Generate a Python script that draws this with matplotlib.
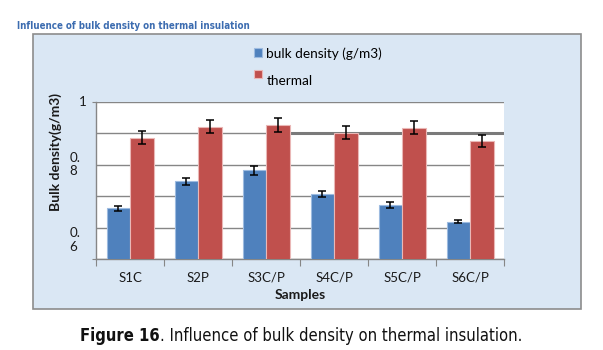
import matplotlib
matplotlib.use("Agg")
import matplotlib.pyplot as plt
import numpy as np
from matplotlib import font_manager as fm
from matplotlib.patches import Rectangle

samples = ["S1C", "S2P", "S3C/P", "S4C/P", "S5C/P", "S6C/P"]
bulk_density = [0.662, 0.748, 0.783, 0.706, 0.671, 0.619]
bulk_err = [0.008, 0.011, 0.014, 0.0095, 0.0095, 0.005]
thermal = [0.886, 0.921, 0.926, 0.902, 0.917, 0.876]
thermal_err = [0.020, 0.021, 0.021, 0.021, 0.021, 0.019]
series_labels = ["bulk density (g/m3)", "\nthermal"]
ytick_vals = [0.6, 0.8, 1.0]
ytick_labels = ["0.\n6", "0.\n8", "1"]

avail = {f.name for f in fm.fontManager.ttflist}
main = "Lato" if "Lato" in avail else "DejaVu Sans"
plt.rcParams["font.family"] = [main, "DejaVu Sans"]
narrow_kw = dict(family=["DejaVu Sans"], stretch="condensed")

W, H = 603, 350
fig = plt.figure(figsize=(W / 100, H / 100), dpi=100)
fig.patch.set_facecolor("white")

def fx(px):
    return px / W

def fy(py):
    return 1 - py / H

bg = fig.add_axes([0, 0, 1, 1], zorder=-5)
bg.axis("off")
bg.set_xlim(0, 1)
bg.set_ylim(0, 1)
bg.add_patch(Rectangle((fx(33), fy(309.3)), fx(580.7) - fx(33), fy(34) - fy(309.3),
                       transform=bg.transAxes, facecolor="#dae7f4",
                       edgecolor="#8c8c8c", linewidth=1.2, zorder=0))

ax = fig.add_axes([fx(96.3), fy(259.3), fx(504.3) - fx(96.3), fy(101.7) - fy(259.3)], zorder=2)
ax.set_facecolor("white")

x = np.arange(len(samples))
bw = 0.35
blue, red = "#4f81bd", "#c0504d"
ax.bar(x - bw / 2, bulk_density, bw, color=blue, edgecolor="#9dbbe0", linewidth=0.8,
       yerr=bulk_err, capsize=2.7, error_kw=dict(ecolor="black", elinewidth=1.1, capthick=1.1),
       zorder=3, label=series_labels[0])
ax.bar(x + bw / 2, thermal, bw, color=red, edgecolor="#eab7b6", linewidth=0.8,
       yerr=thermal_err, capsize=2.7, error_kw=dict(ecolor="black", elinewidth=1.1, capthick=1.1),
       zorder=3, label=series_labels[1])

ax.set_xlim(-0.5, len(samples) - 0.5)
ax.set_ylim(0.5, 1.0)

ax.set_yticks([0.5, 1.0])
ax.set_yticks([0.6, 0.7, 0.8, 0.9], minor=True)
ax.yaxis.grid(True, which="both", color="#868686", linewidth=1.0, zorder=1)
ax.set_axisbelow(True)
ax.axhline(0.9, xmin=0.475, xmax=1.0, color="#7a7a7a", linewidth=2.2, zorder=1)
ax.tick_params(axis="y", which="major", length=3, color="#868686", labelleft=False)
ax.tick_params(axis="y", which="minor", length=0)

offsets = {0.6: -12, 0.8: 0, 1.0: 0}
for v, lab in zip(ytick_vals, ytick_labels):
    ax.annotate(lab, xy=(0, v), xycoords=("axes fraction", "data"),
                xytext=(-27 if "\n" in lab else -17, offsets[v]), textcoords="offset pixels",
                ha="left", va="center", fontsize=9.6, color="#1a1a1a",
                multialignment="left", linespacing=1.15, annotation_clip=False)

ax.set_xticks(np.arange(-0.5, len(samples), 1.0))
ax.set_xticklabels([])
ax.set_xticks(x, minor=True)
ax.set_xticklabels(samples, minor=True, fontsize=9.5, color="#1a1a1a")
ax.tick_params(axis="x", which="major", length=5, color="#868686", direction="out")
ax.tick_params(axis="x", which="minor", length=0, pad=9)

for s in ["left", "bottom"]:
    ax.spines[s].set_color("#868686")
    ax.spines[s].set_linewidth(1.0)
ax.spines["top"].set_visible(False)
ax.spines["right"].set_visible(False)

ax.set_xlabel("Samples", fontsize=10, fontweight="bold", color="#1a1a1a", labelpad=4)
fig.text(fx(56), fy(152), "Bulk density(g/m3)", rotation=90, ha="center", va="center",
         fontsize=10, fontweight="bold", color="#1a1a1a")

fig.legend(loc="upper left", bbox_to_anchor=(fx(254), fy(47)), frameon=False,
           borderaxespad=0, borderpad=0, handlelength=0.6, handleheight=0.6,
           handletextpad=0.3, labelspacing=0.1, fontsize=9.8)

fig.text(fx(16.7), fy(26), "Influence of bulk density on thermal insulation", ha="left", va="center",
         fontsize=7.0, fontweight="bold", color="#3c6cb0", **narrow_kw)

t1 = bg.text(fx(80), fy(336), "Figure 16", ha="left", va="center", fontsize=11.9,
             fontweight="bold", color="#111111", **narrow_kw)
bg.annotate(". Influence of bulk density on thermal insulation.", xy=(1, 0), xycoords=t1,
            ha="left", va="bottom", fontsize=11.9, color="#111111", **narrow_kw)

fig.savefig("out.png", dpi=100)
